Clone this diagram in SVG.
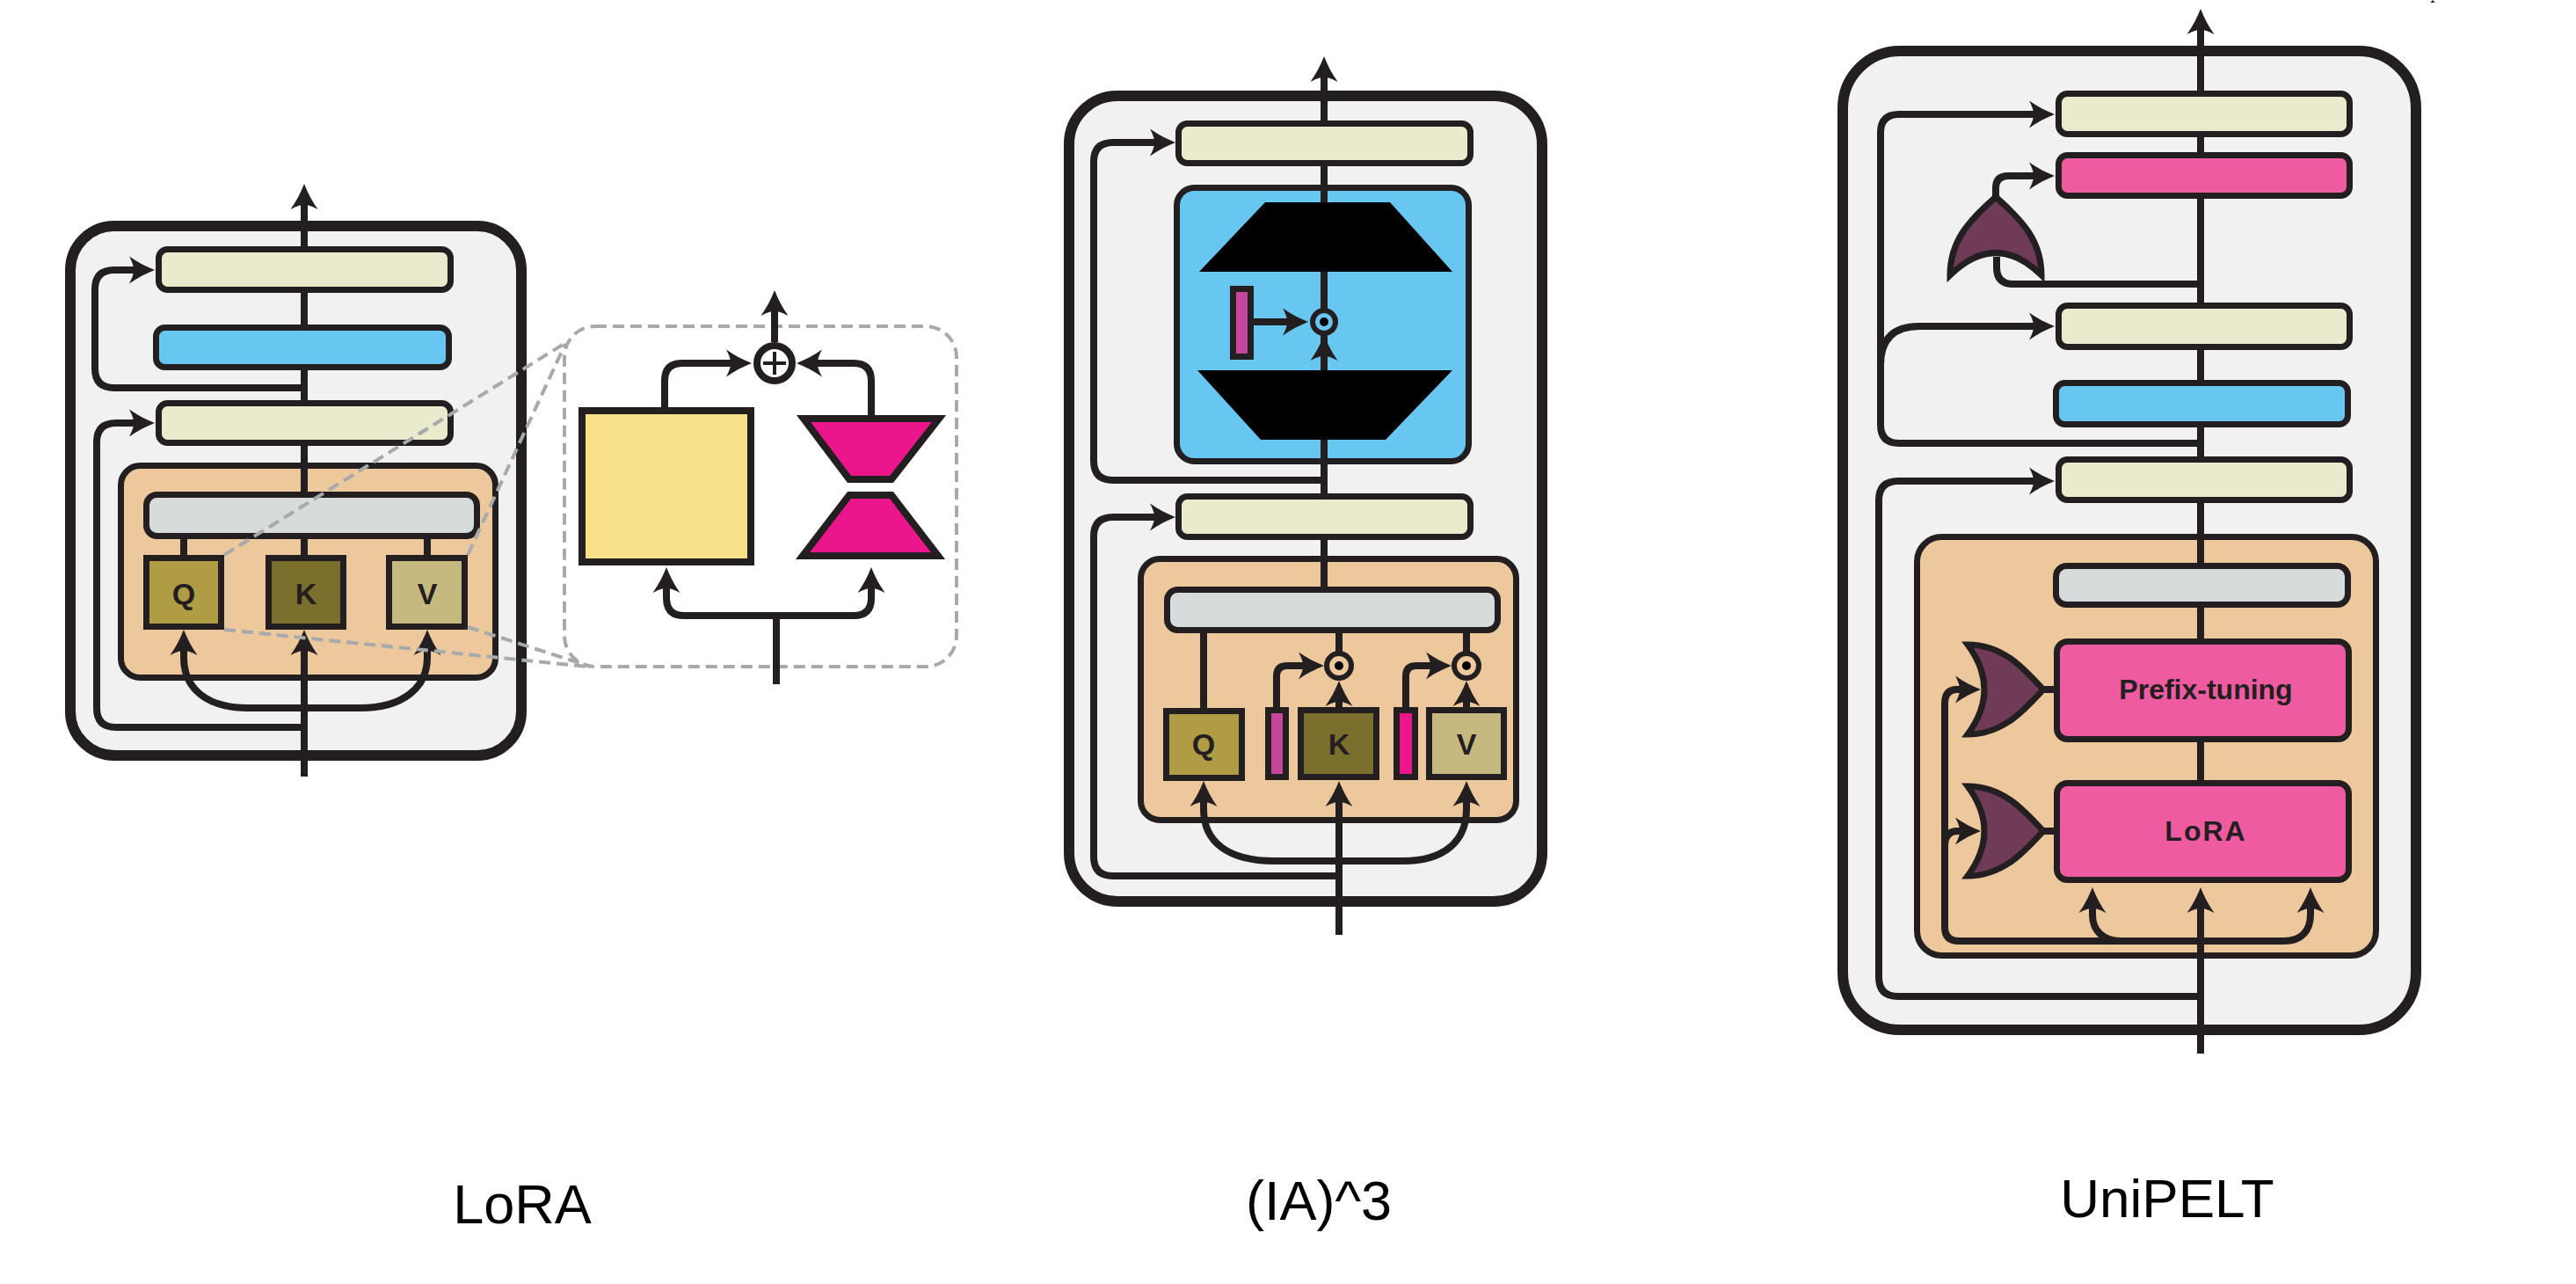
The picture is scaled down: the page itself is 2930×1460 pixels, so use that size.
<svg xmlns="http://www.w3.org/2000/svg" width="2930" height="1460" viewBox="0 0 2930 1460">
<style>
.ln{fill:none;stroke:#231f20;stroke-width:8}
.arr{marker-end:url(#ah)}
.bx{stroke:#231f20;stroke-width:7}
.outer{fill:#f1f1f1;stroke:#231f20;stroke-width:12}
.dash{fill:none;stroke:#a7a9ac;stroke-width:4;stroke-dasharray:13 7}
.beige{fill:#eaeacd}
.blue{fill:#68c7f1}
.orange{fill:#ecc89c}
.grey{fill:#d7dbdc}
.pink{fill:#ef5ba0}
.gate{fill:#6f3b56;stroke:#231f20;stroke-width:7}
.lt{font-family:"Liberation Sans",Arial,sans-serif;font-weight:bold;font-size:34px;fill:#231f20;text-anchor:middle}
.bt{font-family:"Liberation Sans",Arial,sans-serif;font-weight:bold;font-size:32px;fill:#231f20;text-anchor:middle}
.title{font-family:"Liberation Sans",Arial,sans-serif;font-size:63px;fill:#000;text-anchor:middle}
</style>
<defs>
<marker id="ah" markerUnits="userSpaceOnUse" orient="auto" overflow="visible" markerWidth="10" markerHeight="10" refX="0" refY="0">
<path d="M15,0 C5,-4 -5,-9 -14,-15.5 C-10,-8 -9,-4 -9,0 C-9,4 -10,8 -14,15.5 C-5,9 5,4 15,0 Z" fill="#231f20"/>
</marker>
</defs>
<rect width="2930" height="1460" fill="#fff"/>

<!-- containers -->
<g id="lora-block"><rect class="outer" x="80" y="257" width="513" height="602" rx="50"/></g>
<g id="lora-zoom-box"><rect class="dash" x="642" y="371" width="446" height="387" rx="35"/></g>
<g id="ia3-block"><rect class="outer" x="1216" y="109" width="538" height="916" rx="55"/></g>
<g id="unipelt-block"><rect class="outer" x="2096" y="58" width="652" height="1113" rx="65"/></g>

<g id="lora-attn"><rect class="orange bx" x="137.5" y="529.5" width="426" height="241" rx="22"/></g>
<g id="ia3-attn"><rect class="orange bx" x="1297.5" y="635.5" width="427" height="297" rx="22"/></g>
<g id="ia3-ffn"><rect class="blue bx" x="1338.5" y="213.5" width="332" height="311" rx="20"/></g>
<g id="unipelt-attn"><rect class="orange bx" x="2180.5" y="610.5" width="522" height="476" rx="28"/></g>

<!-- connectors -->
<g id="connectors">
<!-- LoRA -->
<path class="ln arr" d="M346,883 V731"/>
<path class="ln arr" d="M346,716 V224"/>
<path class="ln arr" d="M346,805 H282 C234,805 209,782 209,748 V731"/>
<path class="ln arr" d="M346,805 H410 C458,805 486,782 486,748 V731"/>
<path class="ln arr" d="M346,827 H132 Q110,827 110,805 V503 Q110,481 132,481 H161"/>
<path class="ln arr" d="M346,441 H130 Q108,441 108,419 V329 Q108,307 130,307 H161"/>
<path class="ln" d="M209,613 V634 M486,613 V634"/>
<!-- LoRA zoom -->
<path class="ln arr" d="M881,389 V345"/>
<path class="ln arr" d="M756,463 V433 Q756,413 776,413 H840"/>
<path class="ln arr" d="M991,472 V433 Q991,413 971,413 H921"/>
<path class="ln" d="M883,778 V700"/>
<path class="ln arr" d="M883,700 H778 Q758,700 758,680 V660"/>
<path class="ln arr" d="M883,700 H971 Q991,700 991,680 V660"/>
<!-- IA3 -->
<path class="ln arr" d="M1506,667 V79"/>
<path class="ln arr" d="M1506,421 V396"/>
<path class="ln arr" d="M1426,366 H1473"/>
<path class="ln arr" d="M1506,546 H1266 Q1244,546 1244,524 V184 Q1244,162 1266,162 H1322"/>
<path class="ln arr" d="M1523,996 H1266 Q1244,996 1244,974 V610 Q1244,588 1266,588 H1322"/>
<path class="ln arr" d="M1523,1063 V903"/>
<path class="ln arr" d="M1523,979 H1450 C1396,979 1369,957 1369,920 V903"/>
<path class="ln arr" d="M1523,979 H1596 C1642,979 1668,957 1668,920 V903"/>
<path class="ln" d="M1369,720 V808 M1523,720 V744 M1668,720 V744"/>
<path class="ln arr" d="M1523,805 V789"/>
<path class="ln arr" d="M1668,805 V789"/>
<path class="ln arr" d="M1452,807 V769 Q1452,757 1464,757 H1491"/>
<path class="ln arr" d="M1599,807 V769 Q1599,757 1611,757 H1636"/>
<!-- UniPELT -->
<path class="ln arr" d="M2503,1198 V1024"/>
<path class="ln arr" d="M2503,1004 V25"/>
<path class="ln arr" d="M2503,504 H2160 Q2139,504 2139,483 V151 Q2139,130 2160,130 H2322"/>
<path class="ln arr" d="M2139,415 Q2139,371 2183,371 H2322"/>
<path class="ln" d="M2503,323 H2290 Q2271,323 2271,304 V292"/>
<path class="ln arr" d="M2270,226 V214 Q2270,200 2284,200 H2322"/>
<path class="ln arr" d="M2503,1133 H2159 Q2137,1133 2137,1111 V569 Q2137,547 2159,547 H2322"/>
<path class="ln arr" d="M2503,1070 H2228 Q2212,1070 2212,1054 V800 Q2212,784 2226,784 H2238"/>
<path class="ln arr" d="M2212,962 Q2212,945 2227,945 H2238"/>
<path class="ln arr" d="M2503,1070 H2412 C2392,1070 2380,1058 2380,1040 V1024"/>
<path class="ln arr" d="M2503,1070 H2598 C2618,1070 2628,1058 2628,1040 V1024"/>
<path class="ln" d="M2322,784 H2340 M2322,945 H2340"/>
<path d="M2764.5,3 L2767,0 L2769.5,3 Z" fill="#231f20"/>
</g>

<!-- LoRA nodes -->
<g id="lora-norm2"><rect class="beige bx" x="180.5" y="283.5" width="332" height="46" rx="10"/></g>
<g id="lora-ffn"><rect class="blue bx" x="177.5" y="372.5" width="333" height="45" rx="10"/></g>
<g id="lora-norm1"><rect class="beige bx" x="180.5" y="458.5" width="332" height="45" rx="10"/></g>
<g id="lora-attn-out"><rect class="grey bx" x="166.5" y="562.5" width="376" height="47" rx="12"/></g>
<g id="lora-q"><rect class="bx" fill="#b09c45" x="166.5" y="634.5" width="85" height="78"/><text class="lt" x="209" y="687">Q</text></g>
<g id="lora-k"><rect class="bx" fill="#7b6f2e" x="305.5" y="634.5" width="85" height="78"/><text class="lt" x="348" y="687">K</text></g>
<g id="lora-v"><rect class="bx" fill="#c5b97f" x="442.5" y="634.5" width="86" height="78"/><text class="lt" x="486" y="687">V</text></g>

<!-- LoRA zoom nodes -->
<g id="lora-w"><rect fill="#f7e087" stroke="#231f20" stroke-width="8" x="662" y="467" width="192" height="172"/></g>
<g id="lora-ab">
<polygon points="914,476 1068,476 1014,545 966,545" fill="#ec168c" stroke="#231f20" stroke-width="8"/>
<polygon points="966,563 1014,563 1067,632 913,632" fill="#ec168c" stroke="#231f20" stroke-width="8"/>
</g>
<g id="lora-add"><circle cx="881" cy="413" r="20" fill="#fff" stroke="#231f20" stroke-width="8"/><path d="M868,413 H894 M881,400 V426" stroke="#231f20" stroke-width="4"/></g>

<!-- IA3 nodes -->
<g id="ia3-norm2"><rect class="beige bx" x="1340.5" y="140.5" width="332" height="45" rx="10"/></g>
<g id="ia3-ffn-up"><polygon points="1439,230 1581,230 1652,309 1364,309" fill="#000"/></g>
<g id="ia3-ffn-down"><polygon points="1362,421 1652,421 1576,500 1434,500" fill="#000"/></g>
<g id="ia3-lff"><rect class="bx" fill="#c5469a" x="1402.5" y="328.5" width="20" height="77"/></g>
<g id="ia3-mul-ff"><circle cx="1506" cy="366" r="13" fill="#68c7f1" stroke="#231f20" stroke-width="6"/><circle cx="1506" cy="366" r="5" fill="#000"/></g>
<g id="ia3-norm1"><rect class="beige bx" x="1340.5" y="564.5" width="332" height="46" rx="10"/></g>
<g id="ia3-attn-out"><rect class="grey bx" x="1327.5" y="670.5" width="376" height="46" rx="12"/></g>
<g id="ia3-q"><rect class="bx" fill="#b09c45" x="1326.5" y="808.5" width="86" height="76"/><text class="lt" x="1369" y="858">Q</text></g>
<g id="ia3-lk"><rect class="bx" fill="#c5469a" x="1442.5" y="807.5" width="20" height="76"/></g>
<g id="ia3-k"><rect class="bx" fill="#7b6f2e" x="1479.5" y="807.5" width="86" height="76"/><text class="lt" x="1523" y="858">K</text></g>
<g id="ia3-lv"><rect class="bx" fill="#ec168c" x="1588.5" y="807.5" width="21" height="76"/></g>
<g id="ia3-v"><rect class="bx" fill="#c5b97f" x="1625.5" y="807.5" width="85" height="76"/><text class="lt" x="1668" y="858">V</text></g>
<g id="ia3-mul-k"><circle cx="1523" cy="757" r="14" fill="#ecc89c" stroke="#231f20" stroke-width="6"/><circle cx="1523" cy="757" r="5" fill="#000"/></g>
<g id="ia3-mul-v"><circle cx="1668" cy="757" r="14" fill="#ecc89c" stroke="#231f20" stroke-width="6"/><circle cx="1668" cy="757" r="5" fill="#000"/></g>

<!-- UniPELT nodes -->
<g id="uni-norm2"><rect class="beige bx" x="2341.5" y="106.5" width="331" height="46" rx="10"/></g>
<g id="uni-adapter"><rect class="pink bx" x="2341.5" y="176.5" width="331" height="46" rx="10"/></g>
<g id="uni-gate-adapter"><path class="gate" d="M2218,313 C2218,275 2238,252 2270,224 C2302,252 2322,275 2322,313 Q2270,262 2218,313 Z"/></g>
<g id="uni-norm1b"><rect class="beige bx" x="2341.5" y="347.5" width="331" height="47" rx="10"/></g>
<g id="uni-ffn"><rect class="blue bx" x="2338.5" y="435.5" width="332" height="47" rx="10"/></g>
<g id="uni-norm1"><rect class="beige bx" x="2341.5" y="522.5" width="331" height="46" rx="10"/></g>
<g id="uni-attn-out"><rect class="grey bx" x="2338.5" y="643.5" width="332" height="44" rx="12"/></g>
<g id="uni-prefix"><rect class="pink bx" x="2339.5" y="729.5" width="332" height="111" rx="12"/><text class="bt" x="2509" y="795">Prefix-tuning</text></g>
<g id="uni-gate-prefix"><path class="gate" d="M2238,733 C2278,733 2302,760 2324,784 C2302,808 2278,835 2238,835 Q2276,784 2238,733 Z"/></g>
<g id="uni-lora"><rect class="pink bx" x="2339.5" y="890.5" width="332" height="110" rx="12"/><text class="bt" x="2509" y="956" style="letter-spacing:2px">LoRA</text></g>
<g id="uni-gate-lora"><path class="gate" d="M2238,894 C2278,894 2302,921 2324,945 C2302,969 2278,996 2238,996 Q2276,945 2238,894 Z"/></g>

<!-- zoom guide lines -->
<g id="zoom-guides">
<path class="dash" d="M255,631 L643,390"/>
<path class="dash" d="M532,631 L643,391"/>
<path class="dash" d="M255,716 L668,758"/>
<path class="dash" d="M532,713 L672,758"/>
</g>

<!-- titles -->
<g id="titles">
<text class="title" x="594" y="1391">LoRA</text>
<text class="title" x="1500" y="1387">(IA)^3</text>
<text class="title" x="2465" y="1384" style="font-size:62px">UniPELT</text>
</g>
</svg>
